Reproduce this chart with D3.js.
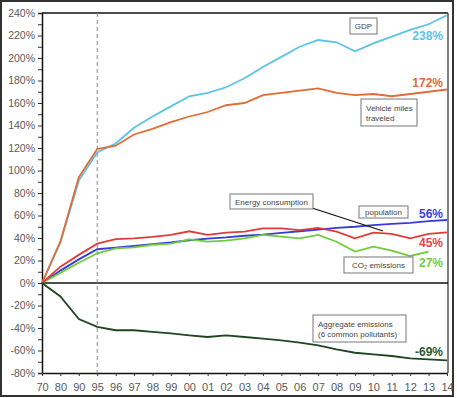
<!DOCTYPE html>
<html>
<head>
<meta charset="utf-8">
<script src="https://cdn.jsdelivr.net/npm/d3@7"></script>
<style>
  body { margin: 0; background: #fff; }
  svg { display: block; font-family: "Liberation Sans", Arial, sans-serif; }
</style>
</head>
<body>
<svg id="chart" width="457" height="398"></svg>
<script>
// data (percent change since 1970)
const years = ["70","80","90","95","96","97","98","99","00","01","02","03","04","05","06","07","08","09","10","11","12","13","14"];
const gdp = [0,36,91,116,124,138,148,157,166,169,174,182,192,201,210,216,214,206,213,219,225,230,238];
const vmt = [0,37,94,119,122,132,137,143,148,152,158,160,167,169,171,173,169,167,168,166,168,170,172];
const energy = [0,14.5,25,35,39,39.7,41,42.7,46,42.7,44.7,45.6,48.5,48.6,47,49,45.6,39.7,44.7,43.6,39.7,43.6,45];
const population = [0,11,21,30,31.5,33,34.5,36,38,39.5,40.5,42,43,44.5,46,47.5,49,50,51.5,52.5,53.5,55,56];
const co2 = [0,9,18,26.4,30.8,31.6,34,35,38.8,36.7,37.6,39.7,42.7,41.2,39.7,42.7,36.7,27.9,32.3,28.7,24,27.9,null];
const aggregate = [0,-12,-32,-39,-42,-42,-43.5,-44.7,-46.5,-48,-46.5,-48,-49.5,-51,-53,-55.4,-59,-62,-63.4,-64.9,-67,-67.9,-68.7];

const endLabels = ["238%","172%","56%","45%","27%","-69%"];

document.addEventListener('DOMContentLoaded', function() {
    const svg = d3.select("#chart");
    const left = 42, right = 447, top = 13, bottom = 373;

    // outer frame
    svg.append("rect")
        .attr("x", 1).attr("y", 1).attr("width", 452).attr("height", 395)
        .attr("fill", "none").attr("stroke", "#333").attr("stroke-width", 2);

    const x = d3.scalePoint().domain(years).range([left, right]);
    const y = d3.scaleLinear().domain([-80, 240]).range([bottom, top]);

    // plot frame (top and right)
    svg.append("line").attr("x1", left).attr("x2", right + 1).attr("y1", top).attr("y2", top)
        .attr("stroke", "#111").attr("stroke-width", 1.5);
    svg.append("line").attr("x1", right + 1).attr("x2", right + 1).attr("y1", top).attr("y2", bottom)
        .attr("stroke", "#555").attr("stroke-width", 1.5);

    // y axis
    const yAxis = d3.axisLeft(y)
        .tickValues(d3.range(-80, 241, 10))
        .tickSize(4)
        .tickFormat(d => d % 20 === 0 ? d + "%" : "");
    const gy = svg.append("g").attr("transform", `translate(${left},0)`).call(yAxis);
    gy.select(".domain").attr("stroke", "#111").attr("stroke-width", 1.5);
    gy.selectAll("line").attr("stroke", "#333");
    gy.selectAll("text").attr("fill", "#5a5a5a").style("font-size", "10.5px").attr("x", -7);

    // x axis
    const xAxis = d3.axisBottom(x).tickSize(3).tickSizeOuter(0);
    const gx = svg.append("g").attr("transform", `translate(0,${bottom})`).call(xAxis);
    gx.select(".domain").attr("stroke", "#111").attr("stroke-width", 1.5);
    gx.selectAll("line").attr("stroke", "#333");
    gx.selectAll("text").attr("fill", "#5a5a5a").style("font-size", "11px").attr("dy", "1.05em");

    // zero line
    svg.append("line").attr("x1", left).attr("x2", right + 1).attr("y1", y(0)).attr("y2", y(0))
        .attr("stroke", "#111").attr("stroke-width", 1.5);

    // dashed marker at 95
    svg.append("line").attr("x1", x("95")).attr("x2", x("95")).attr("y1", top).attr("y2", bottom)
        .attr("stroke", "#888").attr("stroke-width", 1).attr("stroke-dasharray", "4,3");

    const line = d3.line()
        .defined(d => d != null)
        .x((d, i) => x(years[i]))
        .y(d => y(d));

    const series = [
        { values: gdp, color: "#5cc3e6" },
        { values: vmt, color: "#e06c38" },
        { values: population, color: "#3a3ad8" },
        { values: co2, color: "#6fcc3c" },
        { values: energy, color: "#e03c3c" },
        { values: aggregate, color: "#1f4523" }
    ];
    svg.selectAll("path.series")
        .data(series)
        .enter().append("path")
        .attr("class", "series")
        .attr("fill", "none")
        .attr("stroke", d => d.color)
        .attr("stroke-width", 1.8)
        .attr("d", d => line(d.values));

    // end value labels (off = baseline offset from the value's y)
    const labelDefs = [
        { text: endLabels[0], v: 238, off: 25, color: "#5cc3e6" },
        { text: endLabels[1], v: 172, off: -2.5, color: "#e06c38" },
        { text: endLabels[2], v: 56, off: -2, color: "#4040e0" },
        { text: endLabels[3], v: 45, off: 14.6, color: "#e04545" },
        { text: endLabels[4], v: 27, off: 14.4, color: "#70cc40" },
        { text: endLabels[5], v: -69, off: -4.6, color: "#2b5a30" }
    ];
    svg.selectAll("text.endlabel")
        .data(labelDefs)
        .enter().append("text")
        .attr("class", "endlabel")
        .attr("x", 443)
        .attr("y", d => y(d.v) + d.off)
        .attr("text-anchor", "end")
        .attr("fill", d => d.color)
        .style("font-size", "12px")
        .style("font-weight", "bold")
        .text(d => d.text);

    // annotation boxes
    const boxes = [
        { x: 350, y: 18, w: 27, h: 16, lines: ["GDP"], anchor: "middle" },
        { x: 361, y: 99, w: 56, h: 27, lines: ["Vehicle miles", "traveled"], anchor: "start" },
        { x: 230, y: 194, w: 83, h: 15, lines: ["Energy consumption"], anchor: "start" },
        { x: 359, y: 206, w: 49, h: 12, lines: ["population"], anchor: "middle" },
        { x: 344, y: 257, w: 69, h: 16, lines: ["CO\u2082 emissions"], anchor: "middle" },
        { x: 313, y: 315, w: 93, h: 27, lines: ["Aggregate emissions", "(6 common pollutants)"], anchor: "start" }
    ];

    // pointer from energy box
    svg.append("line").attr("x1", 312).attr("y1", 208).attr("x2", 383).attr("y2", 231)
        .attr("stroke", "#111").attr("stroke-width", 1.3);

    const gb = svg.selectAll("g.box").data(boxes).enter().append("g").attr("class", "box");
    gb.append("rect")
        .attr("x", d => d.x).attr("y", d => d.y)
        .attr("width", d => d.w).attr("height", d => d.h)
        .attr("fill", "#fff").attr("stroke", "#777").attr("stroke-width", 1);
    gb.each(function(d) {
        const g = d3.select(this);
        const n = d.lines.length;
        d.lines.forEach((t, i) => {
            g.append("text")
                .attr("x", d.anchor === "middle" ? d.x + d.w / 2 : d.x + 5)
                .attr("y", d.y + d.h / 2 + (i - (n - 1) / 2) * 10 + 3)
                .attr("text-anchor", d.anchor)
                .attr("fill", "#444")
                .style("font-size", "8px")
                .text(t);
        });
    });
});
</script>
</body>
</html>
